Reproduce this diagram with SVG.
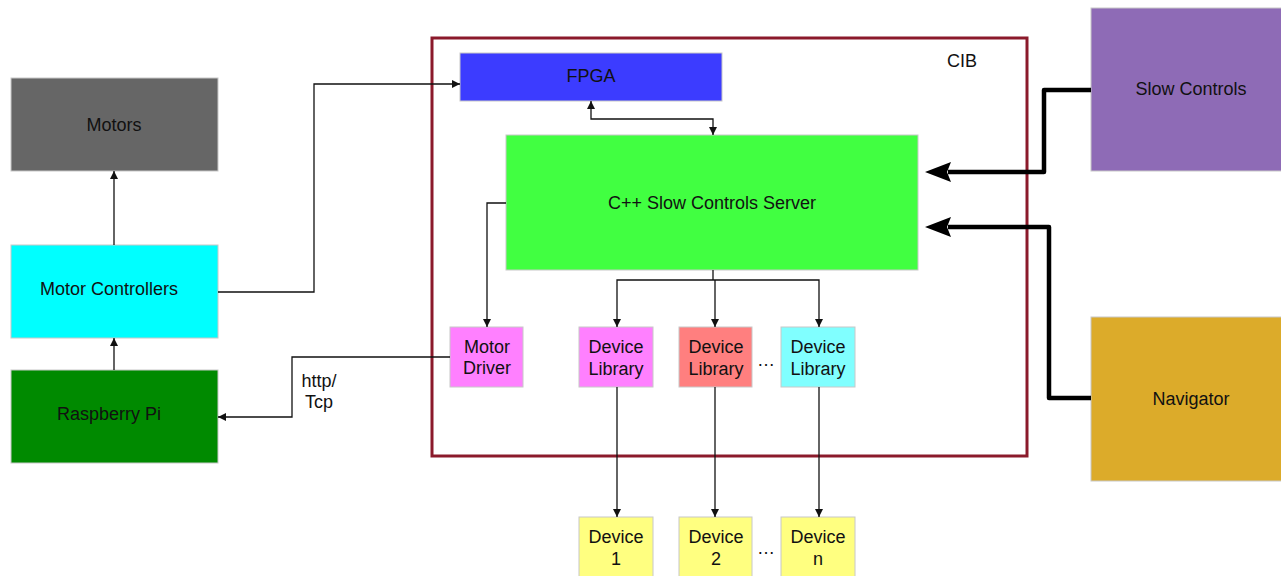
<svg xmlns="http://www.w3.org/2000/svg" width="1281" height="576" viewBox="0 0 1281 576">
<style>
text{font-family:"Liberation Sans",Arial,sans-serif;font-size:18px;fill:#111;text-anchor:middle}
.box{stroke:#c8c8c8;stroke-width:1}
.thin{fill:none;stroke:#111;stroke-width:1.3}
.thick{fill:none;stroke:#000;stroke-width:4.5;stroke-linejoin:round}
</style>
<defs>
<marker id="a" viewBox="0 0 10 10" refX="10" refY="5" markerWidth="8" markerHeight="8" markerUnits="userSpaceOnUse" orient="auto-start-reverse"><path d="M0,0 L10,5 L0,10 z" fill="#111"/></marker>
</defs>
<rect width="1281" height="576" fill="#fff"/>
<g id="cib"><rect x="432" y="38" width="595" height="418" fill="none" stroke="#8b1a2b" stroke-width="3"/><text x="962" y="67">CIB</text></g>
<g id="motors"><rect class="box" x="11" y="78" width="207" height="93" fill="#666666"/><text x="114" y="131">Motors</text></g>
<g id="motor-controllers"><rect class="box" x="11" y="245" width="207" height="93" fill="#00ffff"/><text x="109" y="295">Motor Controllers</text></g>
<g id="raspberry-pi"><rect class="box" x="11" y="370" width="207" height="93" fill="#008a00"/><text x="109" y="420">Raspberry Pi</text></g>
<g id="fpga"><rect class="box" x="460" y="53" width="262" height="48" fill="#3c3cff"/><text x="591" y="82">FPGA</text></g>
<g id="server"><rect class="box" x="506" y="135" width="412" height="135" fill="#41ff41"/><text x="712" y="209">C++ Slow Controls Server</text></g>
<g id="motor-driver"><rect class="box" x="450" y="327" width="73" height="60" fill="#ff80ff"/><text x="487" y="353">Motor</text><text x="487" y="374">Driver</text></g>
<g id="devlib1"><rect class="box" x="579" y="327" width="74" height="60" fill="#ff80ff"/><text x="616" y="353">Device</text><text x="616" y="375">Library</text></g>
<g id="devlib2"><rect class="box" x="679" y="327" width="73" height="60" fill="#ff7f7f"/><text x="716" y="353">Device</text><text x="716" y="375">Library</text></g>
<g id="devlib3"><rect class="box" x="781" y="327" width="74" height="60" fill="#80ffff"/><text x="818" y="353">Device</text><text x="818" y="375">Library</text></g>
<g id="device1"><rect class="box" x="579" y="517" width="74" height="62" fill="#ffff80"/><text x="616" y="543">Device</text><text x="616" y="565">1</text></g>
<g id="device2"><rect class="box" x="679" y="517" width="73" height="62" fill="#ffff80"/><text x="716" y="543">Device</text><text x="716" y="565">2</text></g>
<g id="devicen"><rect class="box" x="781" y="517" width="74" height="62" fill="#ffff80"/><text x="818" y="543">Device</text><text x="818" y="565">n</text></g>
<g id="slow-controls"><rect class="box" x="1091" y="8" width="191" height="163" fill="#8e6bb6"/><text x="1191" y="95">Slow Controls</text></g>
<g id="navigator"><rect class="box" x="1091" y="317" width="191" height="164" fill="#dcab2a"/><text x="1191" y="405">Navigator</text></g>
<text x="766" y="366">…</text>
<text x="766" y="554">…</text>
<text x="319" y="387">http/</text>
<text x="319" y="408">Tcp</text>
<g id="connectors">
<path class="thin" d="M218,292 H314 V84 H460" marker-end="url(#a)"/>
<path class="thin" d="M114,245 V171" marker-end="url(#a)"/>
<path class="thin" d="M114,370 V338" marker-end="url(#a)"/>
<path class="thin" d="M591,101 V119 H713 V135" marker-start="url(#a)" marker-end="url(#a)"/>
<path class="thin" d="M506,203 H487 V327" marker-end="url(#a)"/>
<path class="thin" d="M713,270 V280"/>
<path class="thin" d="M617,327 V280 H819 V327" marker-start="url(#a)" marker-end="url(#a)"/>
<path class="thin" d="M715,280 V327" marker-end="url(#a)"/>
<path class="thin" d="M450,357 H292 V417 H218" marker-end="url(#a)"/>
<path class="thin" d="M617,387 V517" marker-end="url(#a)"/>
<path class="thin" d="M715,387 V517" marker-end="url(#a)"/>
<path class="thin" d="M819,387 V517" marker-end="url(#a)"/>
<path class="thick" d="M1091,90 H1044 V172 H948"/>
<path d="M925,172 L951,162 L947,172 L951,182 z" fill="#000"/>
<path class="thick" d="M1091,398 H1049 V227 H948"/>
<path d="M925,227 L951,217 L947,227 L951,237 z" fill="#000"/>
</g>
</svg>
